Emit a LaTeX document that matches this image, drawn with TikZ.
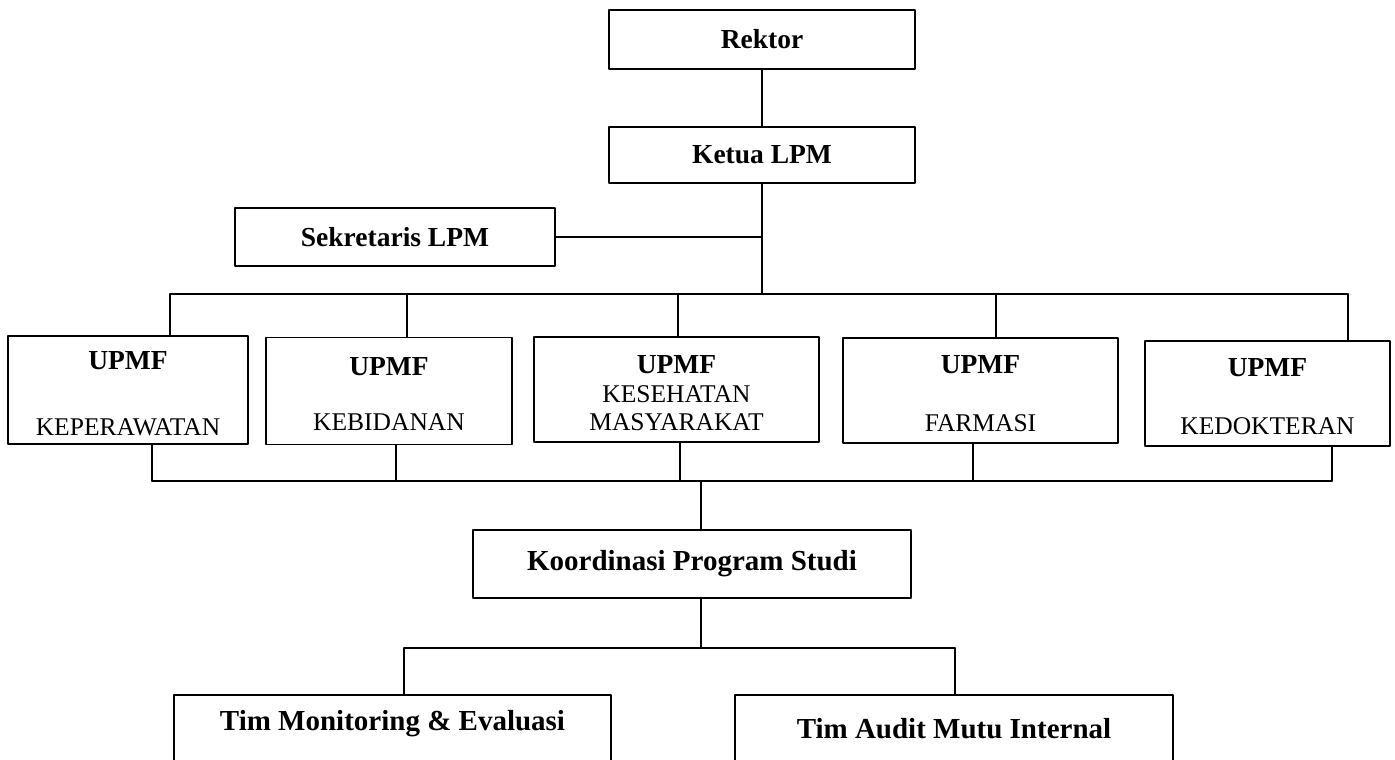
\documentclass[tikz,border=0pt]{standalone}
\usepackage{fontspec}
\setmainfont{Liberation Serif}
\usetikzlibrary{positioning,calc}
\newcommand{\upmfhead}{{\fontsize{27.5}{28}\selectfont\bfseries\rule{0pt}{25pt}UPMF}}

\begin{document}
\begin{tikzpicture}[x=1pt,y=-1pt,line cap=round,line join=round,
  box/.style={draw,line width=1.5pt,inner sep=0pt,align=center},
  headfont/.style={font=\fontsize{27.5}{30}\selectfont\bfseries},
  bigfont/.style={font=\fontsize{29}{32}\selectfont\bfseries},
  unitbox/.style={box,font=\fontsize{25.5}{28}\selectfont},
  link/.style={line width=1.3pt}]
\useasboundingbox (0,0) rectangle (1395,760);
\clip (0,0) rectangle (1395,760);
% pimpinan
\node[box,headfont,minimum width=306pt,minimum height=59pt] (rektor) at (762,39.5) {Rektor};
\node[box,headfont,minimum width=306pt,minimum height=56pt] (ketua) at (762,155) {Ketua LPM};
\node[box,headfont,minimum width=320pt,minimum height=58pt] (sekretaris) at (395,237) {Sekretaris LPM};
% unit penjaminan mutu fakultas
\node[unitbox,minimum width=240pt,minimum height=108pt] (kep) at (128,390) {\upmfhead\\[38pt]KEPERAWATAN};
\node[unitbox,minimum width=246pt,minimum height=107pt] (kebi) at (389,391) {\upmfhead\\[27pt]KEBIDANAN};
\node[unitbox,minimum width=285pt,minimum height=105pt] (kesmas) at (676.5,389.5) {\upmfhead\\[1pt]KESEHATAN\\MASYARAKAT};
\node[unitbox,minimum width=275pt,minimum height=105pt] (farmasi) at (980.5,390.5) {\upmfhead\\[30pt]FARMASI};
\node[unitbox,minimum width=245pt,minimum height=105pt] (kedok) at (1267.5,393.5) {\upmfhead\\[30pt]KEDOKTERAN};
% koordinasi dan tim
\node[box,bigfont,minimum width=438pt,minimum height=68pt] (koord) at (692,564) {Koordinasi Program Studi};
\node[box,minimum width=437pt,minimum height=120pt,anchor=north] (tmon) at (392.5,694) {};
\node[box,minimum width=438pt,minimum height=120pt,anchor=north] (taud) at (954,694) {};
\node[bigfont] (tmontxt) at ($(tmon.north)+(0,30)$) {Tim Monitoring \& Evaluasi};
\node[bigfont] (taudtxt) at ($(taud.north)+(0,35)$) {Tim Audit Mutu Internal};
% titik cabang
\coordinate (d1) at (170,294);
\coordinate (d2) at (407,294);
\coordinate (d3) at (678,294);
\coordinate (d4) at (996,294);
\coordinate (d5) at (1348,294);
\coordinate (u1) at (152,481);
\coordinate (u2) at (396,481);
\coordinate (u3) at (680,481);
\coordinate (u4) at (973,481);
\coordinate (u5) at (1332,481);
\coordinate (k0) at (701,481);
\coordinate (k1) at (701,648);
\coordinate (t1) at (404,648);
\coordinate (t2) at (955,648);
% garis
\draw[link] (rektor.south) -- (ketua.north);
\draw[link] (ketua.south) -- (ketua.south |- d1);
\draw[link] (sekretaris.east) -- (sekretaris.east -| ketua.south);
\draw[link,line width=1.8pt] (d1) -- (d5);
\draw[link] (d1) -- (d1 |- kep.north);
\draw[link] (d2) -- (d2 |- kebi.north);
\draw[link] (d3) -- (d3 |- kesmas.north);
\draw[link] (d4) -- (d4 |- farmasi.north);
\draw[link] (d5) -- (d5 |- kedok.north);
\draw[link] (u1 |- kep.south) -- (u1);
\draw[link] (u2 |- kebi.south) -- (u2);
\draw[link] (u3 |- kesmas.south) -- (u3);
\draw[link] (u4 |- farmasi.south) -- (u4);
\draw[link] (u5 |- kedok.south) -- (u5);
\draw[link,line width=1.8pt] (u1) -- (u5);
\draw[link] (k0) -- (k0 |- koord.north);
\draw[link] (k1 |- koord.south) -- (k1);
\draw[link,line width=1.8pt] (t1) -- (t2);
\draw[link] (t1) -- (t1 |- tmon.north);
\draw[link] (t2) -- (t2 |- taud.north);
\end{tikzpicture}
\end{document}
